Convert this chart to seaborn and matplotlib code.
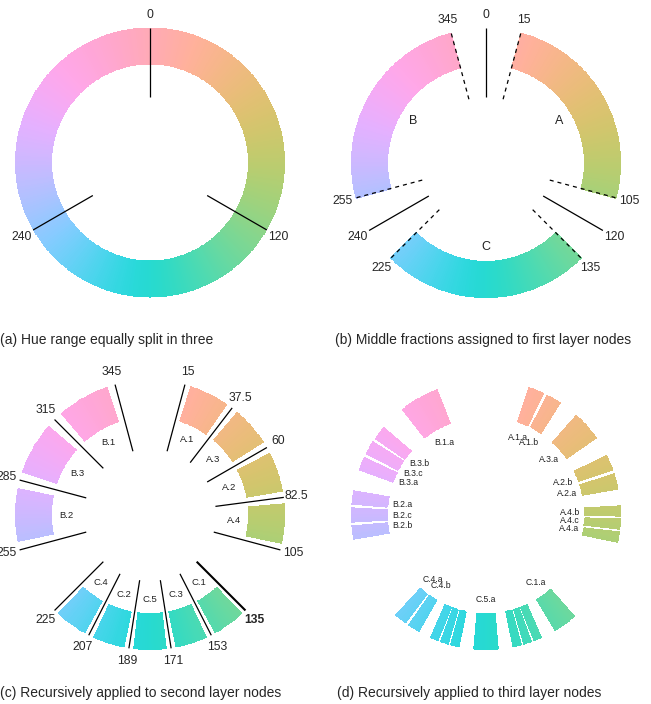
import numpy as np
import matplotlib
matplotlib.use("Agg")
import matplotlib.pyplot as plt
from matplotlib.colors import ListedColormap
import seaborn as sns

sns.set_theme(style="white")
plt.rcParams['font.family'] = ['Liberation Sans', 'DejaVu Sans']

# --- tree structure (children listed in hue order) ---
first_names = ["A", "C", "B"]
second_names = {
    "A": ["A.1", "A.3", "A.2", "A.4"],
    "C": ["C.1", "C.3", "C.5", "C.2", "C.4"],
    "B": ["B.2", "B.3", "B.1"],
}
third_names = {
    "A.1": ["a", "b"], "A.3": ["a"], "A.2": ["b", "a"], "A.4": ["b", "c", "a"],
    "C.1": ["a"], "C.3": ["a", "b", "c"], "C.5": ["a"], "C.2": ["a", "b", "c"], "C.4": ["b", "a"],
    "B.2": ["b", "c", "a"], "B.3": ["a", "c", "b"], "B.1": ["a"],
}
unlabeled_parents = ["C.3", "C.2"]
fraction = 0.75

captions = [
    "(a) Hue range equally split in three",
    "(b) Middle fractions assigned to first layer nodes",
    "(c) Recursively applied to second layer nodes",
    "(d) Recursively applied to third layer nodes",
]

HCL_C, HCL_L, HUE_SHIFT = 60, 79, 5


def hcl_to_rgb(h, c, l):
    # polar CIELUV -> sRGB (D65), clipped
    h = np.radians(np.asarray(h, dtype=float))
    u, v = c * np.cos(h), c * np.sin(h)
    xn, yn, zn = 95.047, 100.0, 108.883
    un = 4 * xn / (xn + 15 * yn + 3 * zn)
    vn = 9 * yn / (xn + 15 * yn + 3 * zn)
    y = np.full_like(u, yn * ((l + 16) / 116) ** 3)
    up = u / (13 * l) + un
    vp = v / (13 * l) + vn
    x = y * 9 * up / (4 * vp)
    z = y * (12 - 3 * up - 20 * vp) / (4 * vp)
    xyz = np.stack([x, y, z], axis=-1) / 100
    m = np.array([[3.2404542, -1.5371385, -0.4985314],
                  [-0.9692660, 1.8760108, 0.0415560],
                  [0.0556434, -0.2040259, 1.0572252]])
    lin = np.clip(xyz @ m.T, 0, 1)
    rgb = np.where(lin <= 0.0031308, 12.92 * lin, 1.055 * lin ** (1 / 2.4) - 0.055)
    return np.clip(rgb, 0, 1)


hue_cmap = ListedColormap(hcl_to_rgb(np.arange(360) + HUE_SHIFT, HCL_C, HCL_L))

R_IN, R_OUT = 99, 134
LINE_IN, LINE_OUT = 66, 135
R_NUM, R_NODE = 148, 84


def split(lo, hi, n):
    step = (hi - lo) / n
    return [(lo + i * step, lo + (i + 1) * step) for i in range(n)]


def middle(lo, hi):
    pad = (hi - lo) * (1 - fraction) / 2
    return lo + pad, hi - pad


def polar(cx, cy, hue, r):
    t = np.radians(hue)
    return cx + r * np.sin(t), cy - r * np.cos(t)


def draw_arc(ax, cx, cy, h0, h1):
    th = np.linspace(h0, h1, max(3, int((h1 - h0) * 2) + 1))
    T, R = np.meshgrid(th, [R_IN, R_OUT])
    X, Y = polar(cx, cy, T, R)
    C = (((th[:-1] + th[1:]) / 2) % 360)[None, :]
    ax.pcolormesh(X, Y, C, cmap=hue_cmap, vmin=0, vmax=360, shading='flat',
                  edgecolors='face', linewidth=0.2)


def draw_tick(ax, cx, cy, hue, ls='-', lw=0.9, label=True, bold=False):
    x, y = polar(cx, cy, hue, np.array([LINE_IN, LINE_OUT]))
    if ls == '-':
        ax.plot(x, y, color='black', lw=lw, solid_capstyle='butt')
    else:
        ax.plot(x, y, color='black', lw=lw, dashes=(3.2, 3.2))
    if label:
        tx, ty = polar(cx, cy, hue, R_NUM)
        ax.text(tx, ty, f"{hue % 360:g}", ha='center', va='center', fontsize=8.7,
                fontweight='bold' if bold else 'normal')


def node_label(ax, cx, cy, hue, text, size):
    tx, ty = polar(cx, cy, hue, R_NODE)
    ax.text(tx, ty, text, ha='center', va='center', fontsize=size, color='#222222')


# --- compute hue ranges ---
level1 = dict(zip(first_names, split(0, 360, 3)))
level2 = {}
for p in first_names:
    lo, hi = middle(*level1[p])
    level2.update(dict(zip(second_names[p], split(lo, hi, len(second_names[p])))))
level3 = {}
for p, kids in third_names.items():
    lo, hi = middle(*level2[p])
    for k, rng in zip(kids, split(lo, hi, len(kids))):
        level3[p + "." + k] = (rng, p)

fig = plt.figure(figsize=(6.51, 7.04), dpi=100)
ax = fig.add_axes([0, 0, 1, 1])
ax.set_xlim(0, 651)
ax.set_ylim(704, 0)
ax.set_aspect('equal')
ax.axis('off')

centers = [(150, 162.5), (486, 163), (150, 515), (486, 515)]

# (a)
cx, cy = centers[0]
draw_arc(ax, cx, cy, 0, 360)
for lo, hi in level1.values():
    draw_tick(ax, cx, cy, lo)

# (b)
cx, cy = centers[1]
for name, (lo, hi) in level1.items():
    b0, b1 = middle(lo, hi)
    draw_arc(ax, cx, cy, b0, b1)
    draw_tick(ax, cx, cy, lo)
    draw_tick(ax, cx, cy, b0, ls='--')
    draw_tick(ax, cx, cy, b1, ls='--')
    node_label(ax, cx, cy, (lo + hi) / 2, name, 9)

# (c)
cx, cy = centers[2]
for name, (lo, hi) in level2.items():
    b0, b1 = middle(lo, hi)
    draw_arc(ax, cx, cy, b0, b1)
    draw_tick(ax, cx, cy, lo, lw=1.5 if lo == 135 else 0.9, bold=(lo == 135))
    node_label(ax, cx, cy, (lo + hi) / 2, name, 6.8)
for p in first_names:
    draw_tick(ax, cx, cy, middle(*level1[p])[1])

# (d)
cx, cy = centers[3]
for name, ((lo, hi), parent) in level3.items():
    b0, b1 = middle(lo, hi)
    draw_arc(ax, cx, cy, b0, b1)
    if parent not in unlabeled_parents:
        node_label(ax, cx, cy, (lo + hi) / 2, name, 6.2)

caption_pos = [(0, 340), (335, 340), (0, 693), (337, 693)]
for (x, y), txt in zip(caption_pos, captions):
    ax.text(x, y, txt, ha='left', va='center', fontsize=10)

fig.savefig("out.png", dpi=100)
